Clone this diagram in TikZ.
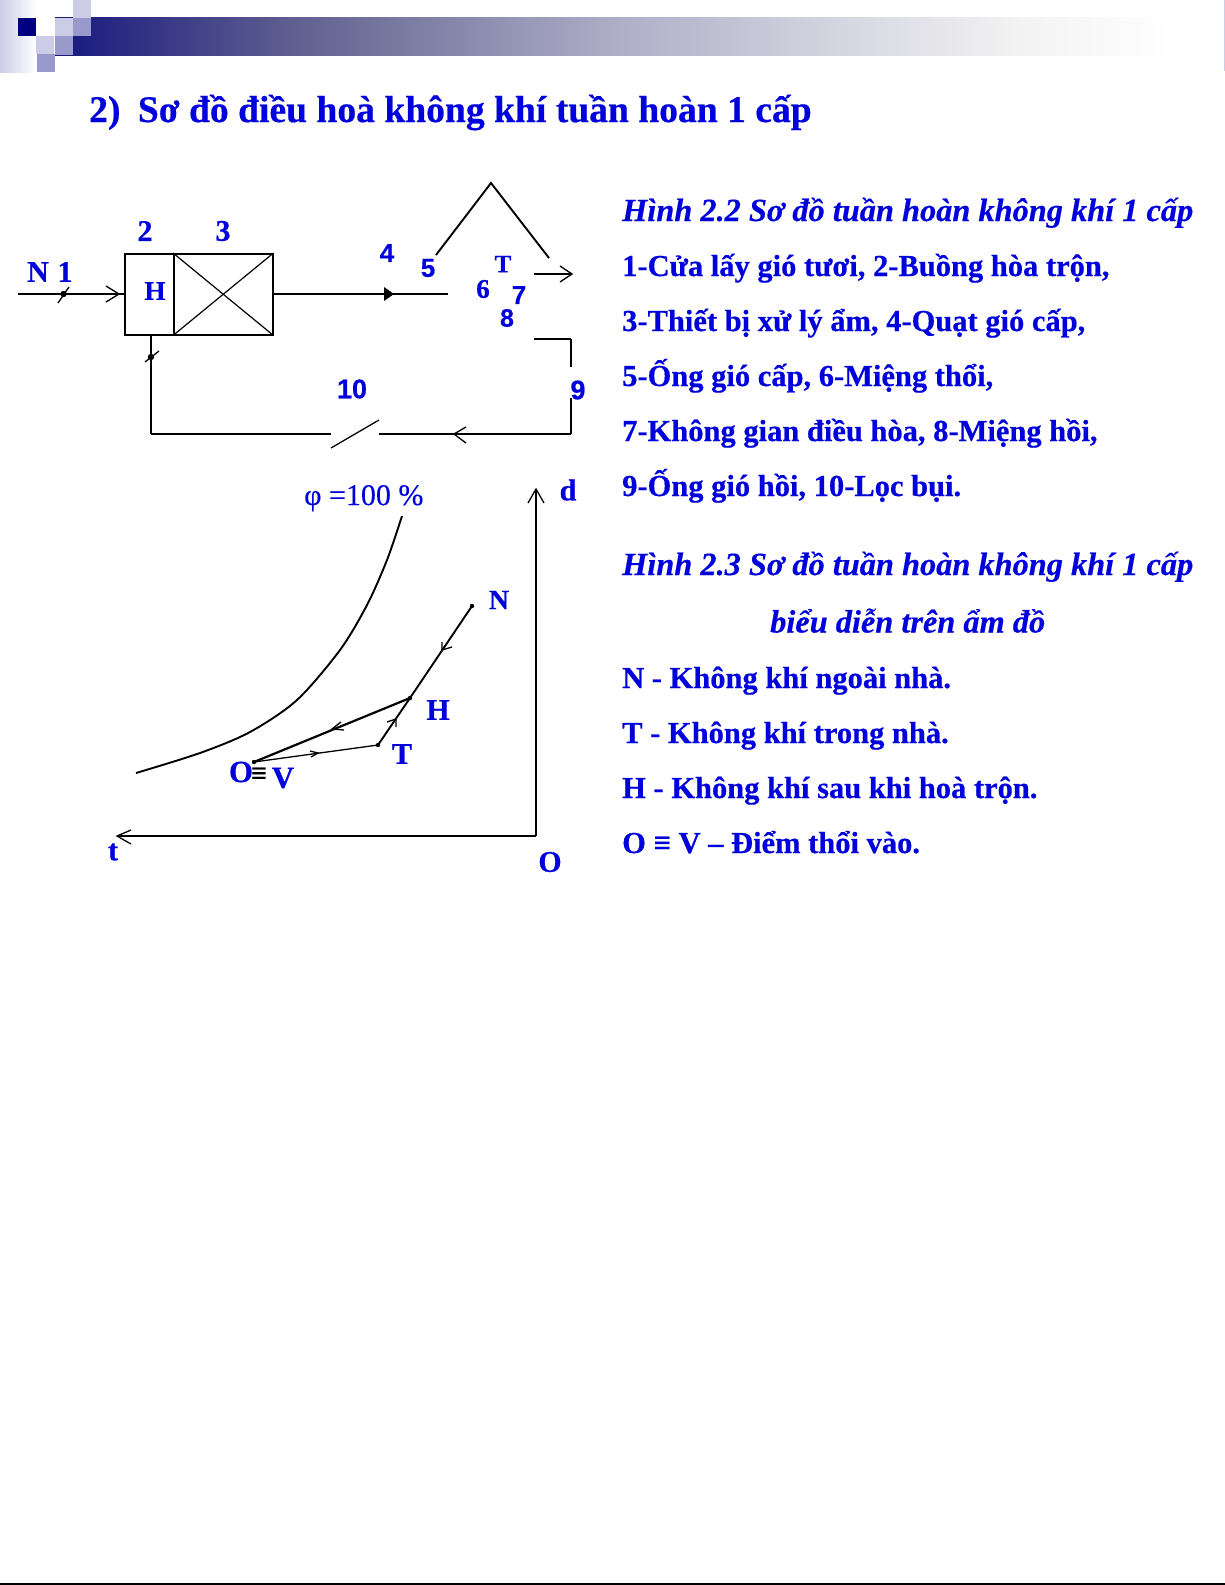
\documentclass[tikz,border=0pt]{standalone}
\usepackage{fontspec}
\setmainfont{Liberation Serif}[BoldFeatures={FakeBold=0.5},BoldItalicFeatures={FakeBold=0.4}]
\newfontfamily\arialf{Liberation Sans}[BoldFeatures={FakeBold=0.4}]
\newfontfamily\phifont{Liberation Serif}[FakeBold=0.35]
\definecolor{txtblue}{RGB}{0,0,220}
\definecolor{navy}{RGB}{0,0,128}
\definecolor{lightsq}{RGB}{204,204,230}
\definecolor{midsq}{RGB}{153,153,204}
\pgfdeclarehorizontalshading{headerbar}{100bp}{
 rgb(0bp)=(0.09,0.09,0.50);
 rgb(25bp)=(0.09,0.09,0.50);
 rgb(35.5bp)=(0.37,0.37,0.56);
 rgb(50bp)=(0.68,0.68,0.78);
 rgb(61bp)=(0.85,0.85,0.89);
 rgb(68bp)=(0.95,0.95,0.95);
 rgb(75bp)=(1,1,1);
 rgb(100bp)=(1,1,1)}
\tikzset{
 x=1pt,y=-1pt,
 lbl/.style={text=txtblue,font=\bfseries\fontsize{#1}{#1}\selectfont,inner sep=0pt},
 lbl/.default=27,
 num/.style={text=txtblue,font=\arialf\bfseries\fontsize{#1}{#1}\selectfont,inner sep=0pt},
 num/.default=26,
 txtline/.style={text=txtblue,font=\bfseries\fontsize{30.5}{30.5}\selectfont,inner sep=0pt,anchor=base west},
 capline/.style={text=txtblue,font=\bfseries\itshape\fontsize{32.35}{32.35}\selectfont,inner sep=0pt,anchor=base west},
 thin ln/.style={draw=black,line width=1.3pt},
 med ln/.style={draw=black,line width=1.9pt},
 thick ln/.style={draw=black,line width=2.8pt},
 barb/.style={draw=black,line width=1.3pt},
 boxed/.style={draw=black,line width=1.5pt,inner sep=0pt,anchor=north west},
}
\begin{document}
\begin{tikzpicture}
\useasboundingbox (0,0) rectangle (1225,1585);
\fill[white] (0,0) rectangle (1225,1585);
% header
\shade[shading=headerbar] (55,17) rectangle (1172,55);
\shade[left color=lightsq,right color=white,draw=none] (0,0) rectangle (36,72);
\fill[navy] (18,18) rectangle (36,36);
\fill[lightsq] (36,36) rectangle (54,54);
\fill[lightsq] (55,18) rectangle (73,36);
\fill[lightsq] (73,0) rectangle (91,18);
\fill[midsq] (73,18) rectangle (91,36);
\fill[midsq] (55,36) rectangle (73,55);
\fill[midsq] (37,54) rectangle (55,72);
\fill[lightsq] (1223.8,0) rectangle (1225,71);
\draw[black,line width=1.5pt] (0,1584) -- (1225,1584);
% title
\node[lbl=37.6,anchor=base west] (title) at (89,122) {2)\hspace{8pt} Sơ đồ điều hoà không khí tuần hoàn 1 cấp};
% top schematic
\node[boxed,minimum width=49pt,minimum height=81pt] (boxH) at (124,253) {};
\node[boxed,minimum width=99pt,minimum height=81pt] (boxX) at (173,253) {};
\draw[line width=1.2pt] (boxX.north west) -- (boxX.south east) (boxX.north east) -- (boxX.south west);
\coordinate (inlet) at (18,294);
\coordinate (supplyend) at (448,294);
\coordinate (peakL) at (436,255);
\coordinate (peak) at (491,183);
\coordinate (peakR) at (549,258);
\coordinate (a7s) at (534,274);
\coordinate (a7e) at (572,274);
\coordinate (r1) at (534,339);
\coordinate (r2) at (571,339);
\coordinate (r3) at (571,367);
\coordinate (r4) at (571,398);
\coordinate (r5) at (571,434);
\coordinate (r6) at (527,434);
\coordinate (r7) at (379,434);
\coordinate (f1) at (331,448);
\coordinate (f2) at (379,420);
\coordinate (r8) at (331,434);
\coordinate (r9) at (151,434);
\coordinate (damp) at (151,357);
\coordinate (dampin) at (63.5,294);
\draw[thin ln] (inlet) -- (boxH.west |- inlet);
\draw[barb] (106,286) -- (119,294) -- (106,302);
\draw[barb] (58,303) -- (69,287);
\fill (dampin) circle (3.2pt);
\draw[thin ln] (boxX.east |- supplyend) -- (supplyend);
\fill (384,287) -- (394,294) -- (384,301) -- cycle;
\draw[med ln] (peakL) -- (peak) -- (peakR);
\draw[thin ln] (a7s) -- (a7e);
\draw[barb] (560,266) -- (572,274) -- (560,282);
\draw[thin ln] (r1) -- (r2);
\draw[med ln] (r2) -- (r3);
\draw[med ln] (r4) -- (r5);
\draw[thin ln] (r5) -- (r6);
\draw[thick ln] (r6) -- (r7);
\draw[barb] (f1) -- (f2);
\draw[thick ln] (r8) -- (r9);
\draw[med ln] (r9) -- (r9 |- boxH.south);
\draw[barb] (466,427) -- (454,434) -- (466,443);
\draw[barb] (145,362) -- (159,351);
\fill (damp) circle (3.2pt);
% labels schematic
\node[lbl=30] (lN) at (38,272) {N};
\node[lbl=30] (l1) at (65,272) {1};
\node[lbl=30] (l2) at (145,231) {2};
\node[lbl=30] (l3) at (223,231) {3};
\node[lbl=27] (lH) at (155,291) {H};
\node[num] (l4) at (387,253) {4};
\node[num] (l5) at (428,268) {5};
\node[lbl=25] (lT) at (503,264) {T};
\node[lbl=27] (l6) at (483,289) {6};
\node[num] (l7) at (519,295) {7};
\node[num=25] (l8) at (507,318) {8};
\node[num=27] (l9) at (578,390) {9};
\node[num=27] (l10) at (352,389) {10};
% chart
\coordinate (oo) at (536,836);
\coordinate (dtop) at (536,489);
\coordinate (ttip) at (117,836);
\draw[med ln] (oo) -- (dtop);
\draw[barb] (528,503) -- (536,489) -- (544,503);
\draw[med ln] (oo) -- (ttip);
\draw[barb] (131,830) -- (117,836) -- (131,844);
\draw[med ln,smooth] plot coordinates {(136,773) (200,753) (250,732) (297,700) (340,650) (367,605) (387,560) (402,516)};
\coordinate (pN) at (472,606);
\coordinate (pH) at (410,698);
\coordinate (pT) at (378,745);
\coordinate (pO) at (254,762);
\draw[med ln] (pN) -- (pH) -- (pT);
\draw[thin ln] (pT) -- (pO);
\draw[line width=2.2pt] (pO) -- (pH);
\fill (pN) circle (2.2pt) (pH) circle (2.2pt) (pT) circle (2.2pt) (pO) circle (2.2pt);
\draw[barb] (442,642) -- (442,650) -- (452,647);
\draw[barb] (387,722) -- (396,719) -- (396,727);
\draw[barb] (341,722) -- (332,729) -- (344,730);
\draw[barb] (310,751) -- (318,753) -- (311,757);
\node[lbl=28] (cN) at (499,600) {N};
\node[lbl=30] (cH) at (438,710) {H};
\node[lbl=30] (cT) at (402,754) {T};
\node[lbl=31] (cO) at (241,772) {O};
\node[lbl=31] (cV) at (283,778) {V};
\node[lbl=30] (ct) at (113,852) {t};
\node[lbl=30] (cOO) at (550,862) {O};
\node[lbl=30] (cd) at (568,490) {d};
\node[text=txtblue,font=\phifont\fontsize{30}{30}\selectfont,inner sep=0pt,anchor=base west] (phi) at (304,505) {φ =100 \%};
\node[text=black,font=\bfseries\fontsize{28}{28}\selectfont,inner sep=0pt] (eqv) at (259,775) {≡};
% right text
\node[capline] at (622,221) {Hình 2.2 Sơ đồ tuần hoàn không khí 1 cấp};
\node[txtline] at (622,276) {1-Cửa lấy gió tươi, 2-Buồng hòa trộn,};
\node[txtline] at (622,331) {3-Thiết bị xử lý ẩm, 4-Quạt gió cấp,};
\node[txtline] at (622,386) {5-Ống gió cấp, 6-Miệng thổi,};
\node[txtline] at (622,441) {7-Không gian điều hòa, 8-Miệng hồi,};
\node[txtline] at (622,496) {9-Ống gió hồi, 10-Lọc bụi.};
\node[capline] at (622,575) {Hình 2.3 Sơ đồ tuần hoàn không khí 1 cấp};
\node[capline] at (770,632.5) {biểu diễn trên ẩm đồ};
\node[txtline] at (622,688) {N - Không khí ngoài nhà.};
\node[txtline] at (622,743) {T - Không khí trong nhà.};
\node[txtline] at (622,798) {H - Không khí sau khi hoà trộn.};
\node[txtline] at (622,853) {O ≡ V – Điểm thổi vào.};
\end{tikzpicture}
\end{document}
